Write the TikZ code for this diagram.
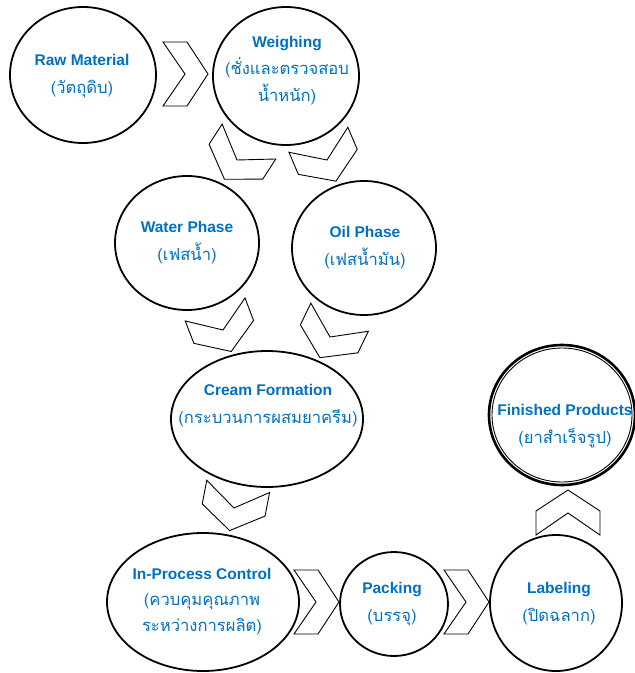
\documentclass[tikz,border=0pt]{standalone}
\usepackage{fontspec}
\setmainfont{Liberation Sans}
\newfontfamily\thaifont[Script=Thai,Scale=1.07]{Loma}
\usetikzlibrary{shapes.geometric}
\definecolor{pfBlue}{RGB}{0,112,192}

\begin{document}
\begin{tikzpicture}[
  x=1pt,y=1pt,
  stage/.style={draw=black,ellipse,line width=1.8pt,inner sep=0pt},
  stagetxt/.style={text=pfBlue,align=center,font=\fontsize{15.5}{28}\selectfont},
  chevron/.pic={\draw[line width=0.9pt] (-22,32) -- (2,32) -- (23,0) -- (2,-32) -- (-22,-32) -- (0,0) -- cycle;},
]
\useasboundingbox (0,0) rectangle (635,-673);
% stages
\node[stage,minimum width=146pt,minimum height=136pt] (raw) at (83,-75) {};
\node[stage,minimum width=146pt,minimum height=138pt] (weigh) at (286,-76) {};
\node[stage,minimum width=144pt,minimum height=134pt] (water) at (187,-243) {};
\node[stage,minimum width=144pt,minimum height=134pt] (oil) at (364,-248) {};
\node[stage,minimum width=192pt,minimum height=136pt] (cream) at (267,-419) {};
\node[stage,minimum width=192pt,minimum height=138pt] (ipc) at (203,-602) {};
\node[stage,minimum width=108pt,minimum height=104pt] (pack) at (394,-604) {};
\node[stage,minimum width=132pt,minimum height=136pt] (label) at (556,-603) {};
\node[stage,line width=2.6pt,minimum width=146pt,minimum height=140pt] (fin) at (562,-415) {};
\node[stage,line width=0.9pt,minimum width=140pt,minimum height=134pt] (finin) at (fin) {};
% labels
\node[stagetxt] (rawtxt) at (82,-76) {\textbf{Raw Material}\\{\thaifont (วัตถุดิบ)}};
\node[stagetxt,font=\fontsize{15.5}{27}\selectfont] (weightxt) at (287,-71)
   {\textbf{Weighing}\\{\thaifont (ชั่งและตรวจสอบ}\\{\thaifont น้ำหนัก)}};
\node[stagetxt] (watertxt) at (187,-242.5) {\textbf{Water Phase}\\{\thaifont (เฟสน้ำ)}};
\node[stagetxt] (oiltxt) at (365,-247.5) {\textbf{Oil Phase}\\{\thaifont (เฟสน้ำมัน)}};
\node[stagetxt] (creamtxt) at (268,-406) {\textbf{Cream Formation}\\{\thaifont (กระบวนการผสมยาครีม)}};
\node[stagetxt,font=\fontsize{15.5}{26}\selectfont] (ipctxt) at (202,-601.5)
   {\textbf{In-Process Control}\\{\thaifont (ควบคุมคุณภาพ}\\{\thaifont ระหว่างการผลิต)}};
\node[stagetxt] (packtxt) at (392,-604.5) {\textbf{Packing}\\{\thaifont (บรรจุ)}};
\node[stagetxt] (labeltxt) at (559,-603.5) {\textbf{Labeling}\\{\thaifont (ปิดฉลาก)}};
\node[stagetxt] (fintxt) at (565,-426) {\textbf{Finished Products}\\{\thaifont (ยาสำเร็จรูป)}};
% chevrons
\pic (c1) at (185,-74) {chevron};
\pic[rotate=-123] (c2) at (237,-160) {chevron};
\pic[rotate=-67] (c3) at (327,-160) {chevron};
\pic[rotate=-69] (c4) at (223,-330) {chevron};
\pic[rotate=-116] (c5) at (330,-337) {chevron};
\pic[rotate=-101] (c6) at (234,-508) {chevron};
\pic (c7) at (316,-602) {chevron};
\pic (c8) at (466,-602) {chevron};
\pic[rotate=90] (c9) at (568,-513) {chevron};
\end{tikzpicture}
\end{document}
